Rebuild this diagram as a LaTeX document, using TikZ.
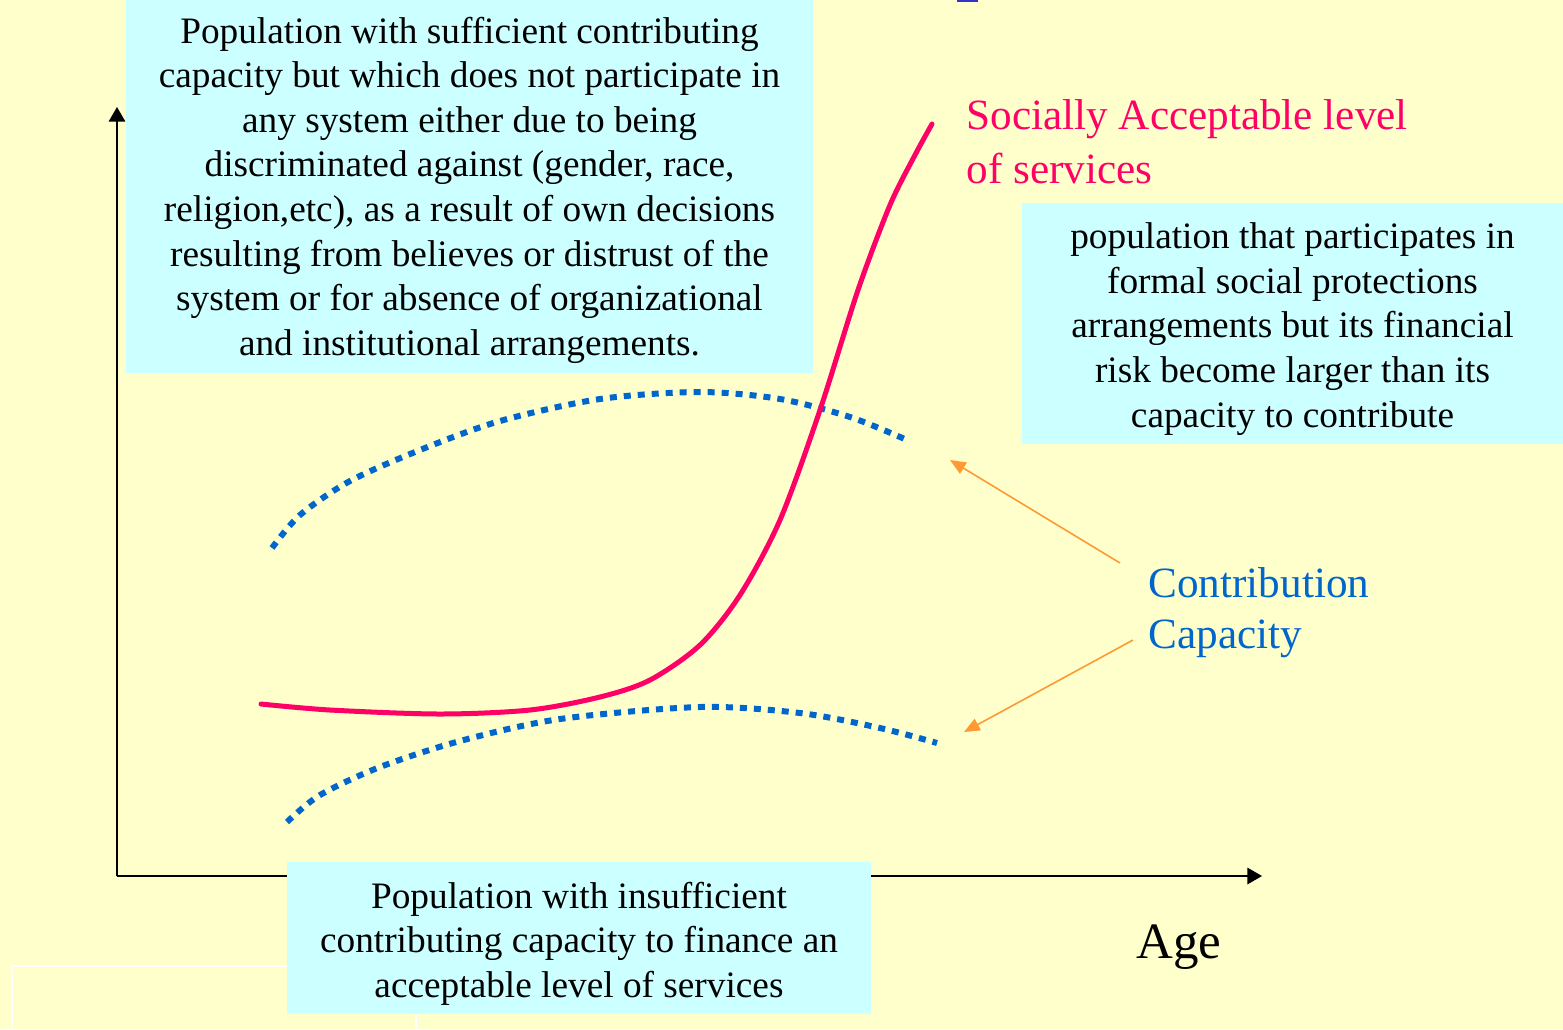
\documentclass[tikz,border=0pt]{standalone}
\usepackage{fontspec}
\setmainfont{Liberation Serif}
\usetikzlibrary{positioning}
\usetikzlibrary{arrows}
\definecolor{bgyellow}{RGB}{255,255,204}
\definecolor{boxcyan}{RGB}{204,255,255}
\definecolor{curvepink}{RGB}{255,0,102}
\definecolor{capblue}{RGB}{0,102,204}
\definecolor{markblue}{RGB}{51,51,204}
\definecolor{arrorange}{RGB}{255,153,51}
\tikzset{%
  infobox/.style={fill=boxcyan, align=center, inner sep=0pt, font=\fontsize{18.65}{22.3}\selectfont},
  axis/.style={->, >=triangle 60, line width=1pt},
  capcurve/.style={capblue, line width=3pt, dash pattern=on 3.5pt off 3.5pt},
  pointer/.style={->, >=triangle 45, arrorange, line width=0.8pt}
}

\begin{document}
\begin{tikzpicture}[x=0.5pt, y=-0.5pt]
  \clip (0,0) rectangle (1563,1029);
  \useasboundingbox (0,0) rectangle (1563,1029);
  \fill[bgyellow] (0,0) rectangle (1563,1029);
  \fill[markblue] (957,0) rectangle (978,2);
  \draw[white, line width=1pt] (12,966) rectangle (416,1060);

  \coordinate (O) at (117,876);
  \coordinate (ytop) at (117,107);
  \coordinate (xend) at (1262,876);
  \draw[axis] (O) -- (ytop);
  \draw[axis] (O) -- (xend);

  \fill[boxcyan] (126,0) rectangle (813,373);
  \fill[boxcyan] (1022,203) rectangle (1563,444);
  \fill[boxcyan] (287,862) rectangle (871,1014);
  \node[infobox, fill=none] (nopart) at (469.5,190)
    {Population with sufficient contributing\\ capacity but which does not participate in\\
     any system either due to being\\ discriminated against (gender, race,\\
     religion,etc), as a result of own decisions\\ resulting from believes or distrust of the\\
     system or for absence of organizational\\ and institutional arrangements.};
  \node[infobox, fill=none] (risk) at (1292.5,329)
    {population that participates in\\ formal social protections\\ arrangements but its financial\\
     risk become larger than its\\ capacity to contribute};
  \node[infobox, fill=none] (insuff) at (579,943.5)
    {Population with insufficient\\ contributing capacity to finance an\\ acceptable level of services};

  \draw[capcurve] plot[smooth] coordinates {(272,548) (300,515) (350,481) (420,450) (500,421)
    (600,399) (700,392) (780,399) (850,417) (907,440)};
  \draw[capcurve] plot[smooth] coordinates {(287,822) (320,795) (380,767) (460,741) (560,719)
    (700,707) (800,713) (880,728) (937,743)};
  \draw[curvepink, line width=2.5pt, line cap=round] plot[smooth] coordinates {(261,704) (330,710)
    (440,714) (530,710) (600,697) (650,680) (700,645) (740,595) (780,520) (820,410) (858,290)
    (890,205) (915,155) (932,124)};

  \node[anchor=west, align=left, text=curvepink, inner sep=0pt,
    font=\fontsize{21.6}{27}\selectfont] (social) at (966,142)
    {Socially Acceptable level\\ of services};
  \node[anchor=west, align=left, text=capblue, inner sep=0pt,
    font=\fontsize{21.6}{25.5}\selectfont] (contrib) at (1148,613)
    {Contribution\\ Capacity};
  \node[font=\fontsize{25.5}{30}\selectfont, inner sep=0pt] (age) at (1179,947) {Age};

  \coordinate (p1) at (1120,563);
  \coordinate (p2) at (1133,640);
  \coordinate (upend) at (950,460);
  \coordinate (lowend) at (964,732);
  \draw[pointer] (p1) -- (upend);
  \draw[pointer] (p2) -- (lowend);
\end{tikzpicture}
\end{document}
